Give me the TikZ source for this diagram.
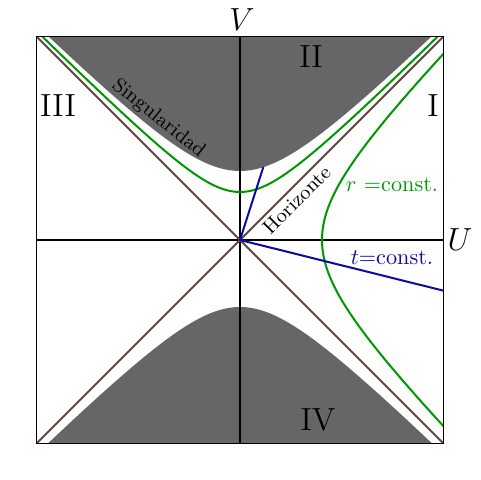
\documentclass[tikz,border=0pt]{standalone}
\begin{document}
\begin{tikzpicture}[x=45pt,y=45pt,
  singfill/.style={fill=sing,draw=none},
  axisline/.style={black,line width=0.8pt},
  horline/.style={hor,line width=0.8pt},
  rline/.style={rgreen,line width=0.9pt},
  tline/.style={tblue,line width=0.9pt},
  region/.style={font=\Large,inner sep=0pt},
  axlabel/.style={font=\Large,inner sep=0pt},
  curvelabel/.style={font=\small,inner sep=0pt}]
\definecolor{sing}{RGB}{102,102,102}
\definecolor{hor}{RGB}{92,70,66}
\definecolor{rgreen}{RGB}{0,150,0}
\definecolor{tblue}{RGB}{10,10,165}
\useasboundingbox (-2.4,-2.4) rectangle (2.4,2.4);
% singularity regions
\fill[singfill] plot[domain=-1.9144:1.9144,samples=80,smooth] (\x,{sqrt(\x*\x+0.4761)}) -- cycle;
\fill[singfill] plot[domain=-1.9216:1.9216,samples=80,smooth] (\x,{-sqrt(\x*\x+0.4489)}) -- cycle;
% box corners and axes
\coordinate (bl) at (-2.035,-2.035);
\coordinate (br) at (2.035,-2.035);
\coordinate (tl) at (-2.035,2.035);
\coordinate (tr) at (2.035,2.035);
\coordinate (o) at (0,0);
\coordinate (ul) at (-2.035,0);
\coordinate (ur) at (2.035,0);
\coordinate (vb) at (0,-2.035);
\coordinate (vt) at (0,2.035);
\draw[axisline] (ul) -- (ur);
\draw[axisline] (vb) -- (vt);
% horizons
\draw[horline] (bl) -- (tr);
\draw[horline] (tl) -- (br);
% r = const curves
\draw[rline] plot[domain=-1.9776:1.9776,samples=80,smooth] (\x,{sqrt(\x*\x+0.2304)});
\draw[rline] plot[domain=-1.8625:1.8625,samples=80,smooth] ({sqrt(\x*\x+0.6724)},\x);
% t = const lines
\coordinate (tII) at (0.2331,0.7283);
\coordinate (tI) at (2.035,-0.507);
\draw[tline] (o) -- (tII);
\draw[tline] (o) -- (tI);
% frame
\draw[black,line width=0.7pt] (bl) rectangle (tr);
% labels
\node[axlabel] (V) at (0.02,2.2) {$V$};
\node[axlabel] (U) at (2.2,0) {$U$};
\node[region] (rII) at (0.71,1.83) {II};
\node[region] (rI) at (1.93,1.34) {I};
\node[region] (rIII) at (-1.82,1.34) {III};
\node[region] (rIV) at (0.78,-1.80) {IV};
\node[inner sep=0pt,text=rgreen] (rc) at (1.52,0.55) {$r$ =const.};
\node[inner sep=0pt,text=tblue] (tc) at (1.52,-0.18) {$t$=const.};
\node[curvelabel,rotate=-38.7] (sg) at (-0.815,1.215) {Singularidad};
\node[curvelabel,rotate=45] (hz) at (0.565,0.40) {Horizonte};
\end{tikzpicture}
\end{document}
